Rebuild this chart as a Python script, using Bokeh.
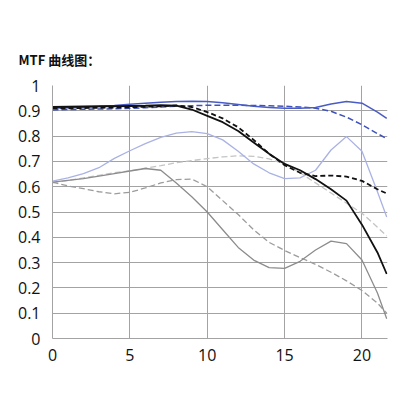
from bokeh.plotting import figure
from bokeh.models import Range1d, FixedTicker, Title, CustomJSTickFormatter
from bokeh.embed import file_html
from bokeh.resources import INLINE

x = [0, 1, 2, 3, 4, 5, 6, 7, 8, 9, 10, 11, 12, 13, 14, 15, 16, 17, 18, 19, 20, 21, 21.6]

blue_solid = [0.91, 0.912, 0.914, 0.917, 0.921, 0.926, 0.93, 0.934, 0.937, 0.938, 0.937, 0.932,
              0.925, 0.918, 0.913, 0.91, 0.91, 0.913, 0.927, 0.937, 0.93, 0.895, 0.87]
blue_dashed = [0.903, 0.905, 0.906, 0.907, 0.908, 0.91, 0.912, 0.915, 0.918, 0.92, 0.922, 0.922,
               0.922, 0.921, 0.92, 0.918, 0.915, 0.91, 0.898, 0.875, 0.845, 0.81, 0.79]
black_solid = [0.915, 0.916, 0.917, 0.918, 0.918, 0.919, 0.92, 0.922, 0.92, 0.905, 0.88, 0.855,
               0.82, 0.775, 0.73, 0.69, 0.665, 0.63, 0.59, 0.545, 0.45, 0.34, 0.255]
black_dashed = [0.91, 0.91, 0.911, 0.912, 0.913, 0.914, 0.916, 0.918, 0.921, 0.915, 0.895, 0.87,
                0.835, 0.785, 0.73, 0.685, 0.655, 0.642, 0.644, 0.64, 0.623, 0.59, 0.573]
lavender_solid = [0.622, 0.635, 0.652, 0.675, 0.712, 0.742, 0.77, 0.795, 0.812, 0.818, 0.81, 0.785,
                  0.74, 0.69, 0.655, 0.632, 0.635, 0.665, 0.745, 0.798, 0.74, 0.58, 0.48]
light_dashed = [0.615, 0.625, 0.635, 0.645, 0.655, 0.663, 0.673, 0.683, 0.695, 0.703, 0.711, 0.718,
                0.722, 0.72, 0.71, 0.69, 0.655, 0.615, 0.575, 0.535, 0.495, 0.44, 0.405]
gray_solid = [0.618, 0.625, 0.632, 0.642, 0.652, 0.662, 0.672, 0.665, 0.615, 0.56, 0.5, 0.43,
              0.36, 0.31, 0.28, 0.277, 0.305, 0.35, 0.385, 0.375, 0.31, 0.18, 0.078]
gray_dashed = [0.618, 0.603, 0.592, 0.58, 0.572, 0.578, 0.595, 0.615, 0.628, 0.63, 0.6, 0.545,
               0.49, 0.43, 0.38, 0.348, 0.32, 0.293, 0.262, 0.228, 0.19, 0.14, 0.1]

x_ticks = [0, 5, 10, 15, 20]
y_ticks = [0, 0.1, 0.2, 0.3, 0.4, 0.5, 0.6, 0.7, 0.8, 0.9, 1.0]
title_text = "MTF 曲线图："

p = figure(width=400, height=400, output_backend="svg", toolbar_location=None,
           x_range=Range1d(0, 21.65), y_range=Range1d(0, 1.0),
           min_border_left=52, min_border_right=13, min_border_top=85, min_border_bottom=62)
p.background_fill_color = "white"
p.border_fill_color = "white"
p.outline_line_color = None

series = [
    (light_dashed, "#c4c4c4", 1.3, "6 3"),
    (gray_dashed, "#9c9c9c", 1.3, "6 3"),
    (gray_solid, "#8c8c8c", 1.3, "solid"),
    (lavender_solid, "#aab2e4", 1.3, "solid"),
    (blue_dashed, "#3f52bb", 1.5, "6 3"),
    (blue_solid, "#4a5cc4", 1.5, "solid"),
    (black_dashed, "#111111", 1.8, "5 3"),
    (black_solid, "#111111", 1.8, "solid"),
]
for ys, col, w, dash in series:
    p.line(x, ys, line_color=col, line_width=w, line_dash=dash)

grid_col = "#a3a3a3"
p.xaxis.ticker = FixedTicker(ticks=x_ticks)
p.yaxis.ticker = FixedTicker(ticks=y_ticks)
p.yaxis.formatter = CustomJSTickFormatter(code="return tick == 0 ? '0' : (tick >= 0.999 ? '1' : tick.toFixed(1));")
for ax in (p.xaxis, p.yaxis):
    ax.axis_line_color = grid_col
    ax.axis_line_width = 1
    ax.major_tick_line_color = None
    ax.minor_tick_line_color = None
    ax.major_label_text_font = "Open Sans"
    ax.major_label_text_font_size = "16px"
    ax.major_label_text_color = "#111111"
p.yaxis.major_label_standoff = 6
p.xaxis.major_label_standoff = 4
p.xgrid.grid_line_color = grid_col
p.ygrid.grid_line_color = grid_col
p.xgrid.grid_line_width = 1
p.ygrid.grid_line_width = 1

p.add_layout(Title(text=title_text, align="left", offset=-34, text_font="Noto Sans CJK SC",
                   text_font_size="13px", text_font_style="bold", text_color="#111111",
                   standoff=33), "above")

open("out.html", "w").write(file_html(p, INLINE))
